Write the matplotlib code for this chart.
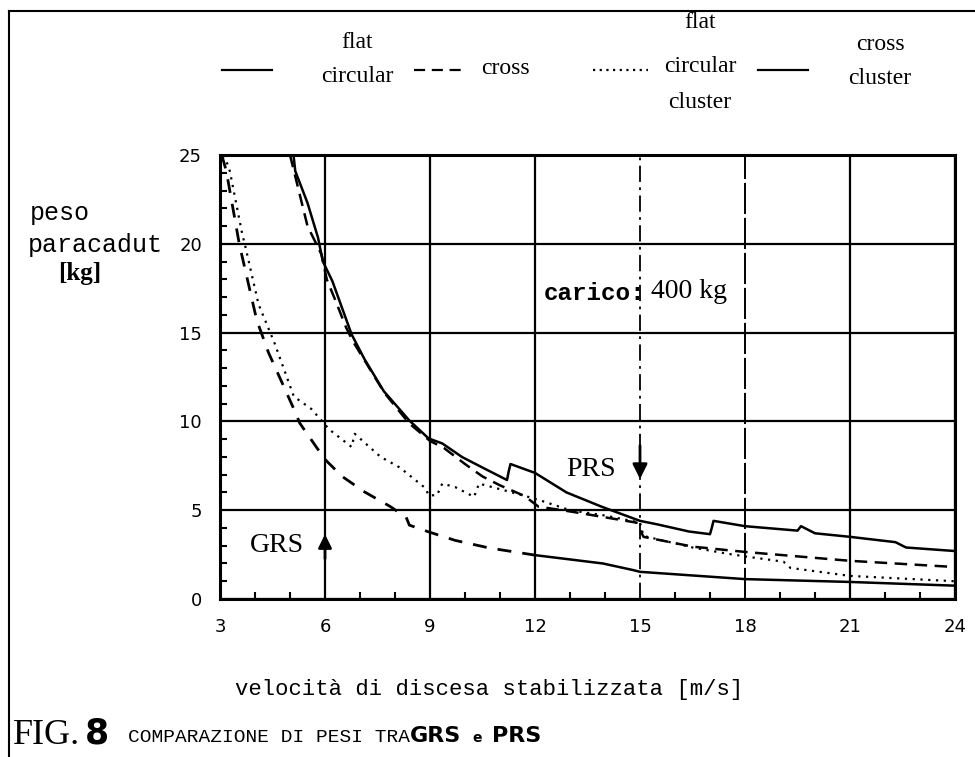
import numpy as np
import matplotlib
matplotlib.use("Agg")
import matplotlib.pyplot as plt
from matplotlib.lines import Line2D
from matplotlib.ticker import MultipleLocator

#### data (velocity m/s -> parachute weight kg)

## flat circular (solid)
flat_x = [5.1, 5.15, 5.5, 5.8, 5.94, 6.21, 6.76, 7.13, 7.68, 8.41, 8.96, 9.35, 9.92, 10.5,
          11.2, 11.25, 11.3, 12.0, 12.9, 13.9, 15.0, 15.5, 16.4, 17.0, 17.05, 17.1, 18.0,
          19.5, 19.6, 20.0, 21.0, 22.3, 22.6, 24.0]
flat_y = [25.0, 24.1, 22.3, 20.35, 19.0, 17.9, 14.9, 13.5, 11.7, 10.05, 9.04, 8.76, 7.99, 7.4,
          6.7, 7.2, 7.6, 7.1, 6.0, 5.2, 4.4, 4.2, 3.8, 3.65, 4.0, 4.4, 4.1,
          3.85, 4.1, 3.7, 3.5, 3.2, 2.9, 2.7]

## cross (dashed)
cross_x = [5.0, 5.5, 5.9, 6.05, 6.3, 6.6, 6.8, 7.7, 8.4, 9.0, 9.4, 10.0, 10.5, 11.0, 11.7,
           12.1, 13.1, 14.0, 14.9, 15.0, 15.1, 16.5, 18.0, 21.0, 24.0]
cross_y = [25.0, 21.0, 19.4, 18.0, 16.8, 15.3, 14.5, 11.6, 9.9, 8.9, 8.5, 7.6, 6.9, 6.4, 5.8,
           5.2, 4.9, 4.6, 4.3, 3.9, 3.5, 2.95, 2.65, 2.15, 1.8]

## flat circular cluster (dotted)
fcc_x = [3.12, 3.28, 3.63, 3.73, 4.1, 4.56, 5.11, 5.61, 6.12, 6.76, 6.85, 7.59, 8.14, 8.87,
         8.96, 9.2, 9.35, 9.72, 10.26, 10.4, 11.65, 12.14, 13.0, 14.0, 15.0, 15.1, 16.5,
         17.5, 18.0, 19.1, 19.3, 21.0, 24.0]
fcc_y = [25.0, 24.1, 20.6, 19.8, 16.6, 14.4, 11.4, 10.7, 9.55, 8.56, 9.3, 8.0, 7.4, 6.24,
         5.84, 5.84, 6.5, 6.3, 5.75, 6.5, 5.84, 5.56, 5.0, 4.7, 4.3, 3.55, 2.9,
         2.55, 2.4, 2.1, 1.75, 1.3, 1.0]

## cross cluster (dashed, then solid)
cc_x = [3.05, 3.18, 3.55, 4.05, 4.38, 5.11, 5.28, 5.75, 6.03, 6.49, 7.13, 7.87, 8.32, 8.41,
        8.96, 9.72, 10.7, 12.0, 13.94, 14.8, 15.0, 18.0, 21.0, 24.0]
cc_y = [25.0, 24.1, 20.0, 15.7, 13.9, 10.7, 9.9, 8.56, 7.8, 6.9, 6.03, 5.2, 4.6, 4.16,
        3.78, 3.3, 2.87, 2.47, 2.0, 1.63, 1.53, 1.12, 0.96, 0.75]

x_ticks = [3, 6, 9, 12, 15, 18, 21, 24]
y_ticks = [0, 5, 10, 15, 20, 25]

W, H = 975, 757


def fp(x, y):
    ## figure pixel (from top-left) -> figure fraction
    return x / W, 1 - y / H


fig = plt.figure(figsize=(9.75, 7.57), dpi=100)
ax = fig.add_axes([220 / W, 1 - 599 / H, 735 / W, 444 / H])

## grid
ax.set_xticks(x_ticks)
ax.set_yticks(y_ticks)
ax.xaxis.set_minor_locator(MultipleLocator(1))
ax.yaxis.set_minor_locator(MultipleLocator(1))
ax.grid(True, which="major", color="black", lw=1.6)
for val, gl in zip(x_ticks, ax.xaxis.get_gridlines()):
    if val == 15:
        gl.set_dashes((9, 3, 1.5, 3))
        gl.set_linewidth(1.3)
    elif val == 18:
        gl.set_dashes((16, 2))
        gl.set_linewidth(1.4)
ax.set_axisbelow(True)

## curves
ax.plot(flat_x, flat_y, color="black", lw=1.8, solid_joinstyle="round")
ax.plot(cross_x, cross_y, color="black", lw=1.8, dashes=(5, 3))
ax.plot(fcc_x, fcc_y, color="black", lw=1.6, dashes=(1, 2.5))
cc_x_arr = np.array(cc_x)
cc_y_arr = np.array(cc_y)
left = cc_x_arr <= 12.0
ax.plot(cc_x_arr[left], cc_y_arr[left], color="black", lw=2.0, dashes=(5, 4))
right = cc_x_arr >= 12.0
ax.plot(cc_x_arr[right], cc_y_arr[right], color="black", lw=1.8)

ax.set_xlim(3, 24)
ax.set_ylim(0, 25)

for sp in ax.spines.values():
    sp.set_linewidth(2.2)

ax.tick_params(which="major", length=0, pad=14, labelsize=13)
ax.tick_params(axis="y", which="major", pad=13)
ax.tick_params(which="minor", direction="in", length=5, width=1.5)
for lab in ax.get_xticklabels() + ax.get_yticklabels():
    lab.set_fontfamily("DejaVu Sans")

## annotations inside the plot
fig.text(*fp(544, 293), "carico:", family="Liberation Mono", weight="bold", fontsize=17.5,
         va="center", ha="left")
fig.text(*fp(651, 291), "400 kg", family="Liberation Serif", fontsize=20, va="center", ha="left")
ax.text(12.9, 7.3, "PRS", family="Liberation Serif", fontsize=20, va="center", ha="left")
ax.text(3.85, 3.0, "GRS", family="Liberation Serif", fontsize=20, va="center", ha="left")
ax.annotate("", xy=(15, 6.6), xytext=(15, 8.8),
            arrowprops=dict(arrowstyle="-|>", color="black", lw=2, mutation_scale=22))
ax.annotate("", xy=(6, 3.8), xytext=(6, 2.1),
            arrowprops=dict(arrowstyle="-|>", color="black", lw=2, mutation_scale=20))

## axis labels
fig.text(*fp(30, 213), "peso", family="Liberation Mono", fontsize=18, va="center", ha="left")
fig.text(*fp(28, 245), "paracadut", family="Liberation Mono", fontsize=18, va="center", ha="left")
fig.text(*fp(58, 273), "[kg]", family="Liberation Serif", weight="bold", fontsize=18,
         va="center", ha="left")
fig.text(*fp(235, 690), "velocità di discesa stabilizzata [m/s]", family="Liberation Mono",
         fontsize=16, va="center", ha="left")

## legend row across the top
leg_y = 70
legend_items = [
    ((222, 272), {}, ["flat", "circular"], 357, [42, 77]),
    ((414, 462), {"dashes": (5, 3)}, ["cross"], 505, [68]),
    ((593, 648), {"dashes": (1, 2)}, ["flat", "circular", "cluster"], 700, [22, 66, 103]),
    ((758, 808), {}, ["cross", "cluster"], 880, [45, 78]),
]
for (x0, x1), style, words, tx, tys in legend_items:
    a = fp(x0, leg_y)
    b = fp(x1, leg_y)
    fig.add_artist(Line2D([a[0], b[0]], [a[1], b[1]], color="black", lw=1.6, **style))
    for word, ty in zip(words, tys):
        fig.text(*fp(tx, ty), word, family="Liberation Serif", fontsize=17,
                 va="center", ha="center")

## caption
fig.text(*fp(13, 736), "FIG.", family="Liberation Serif", fontsize=26, va="center", ha="left")
fig.text(*fp(85, 733), "8", family="DejaVu Sans", weight="bold", fontsize=25, va="center", ha="left")
fig.text(*fp(128, 738), "COMPARAZIONE DI PESI TRA", family="Liberation Mono", fontsize=14,
         va="center", ha="left")
fig.text(*fp(410, 736), "GRS", family="DejaVu Sans", weight="bold", fontsize=16,
         va="center", ha="left")
fig.text(*fp(472, 738), "e", family="DejaVu Sans", weight="bold", fontsize=10,
         va="center", ha="left")
fig.text(*fp(492, 736), "PRS", family="DejaVu Sans", weight="bold", fontsize=16,
         va="center", ha="left")

## page frame (top and left edge of the scan)
p0 = fp(9, 11)
p1 = fp(975, 11)
p2 = fp(9, 757)
fig.add_artist(Line2D([p0[0], p1[0]], [p0[1], p1[1]], color="black", lw=1.5))
fig.add_artist(Line2D([p0[0], p2[0]], [p0[1], p2[1]], color="black", lw=1.5))

fig.savefig("out.png", dpi=100)
